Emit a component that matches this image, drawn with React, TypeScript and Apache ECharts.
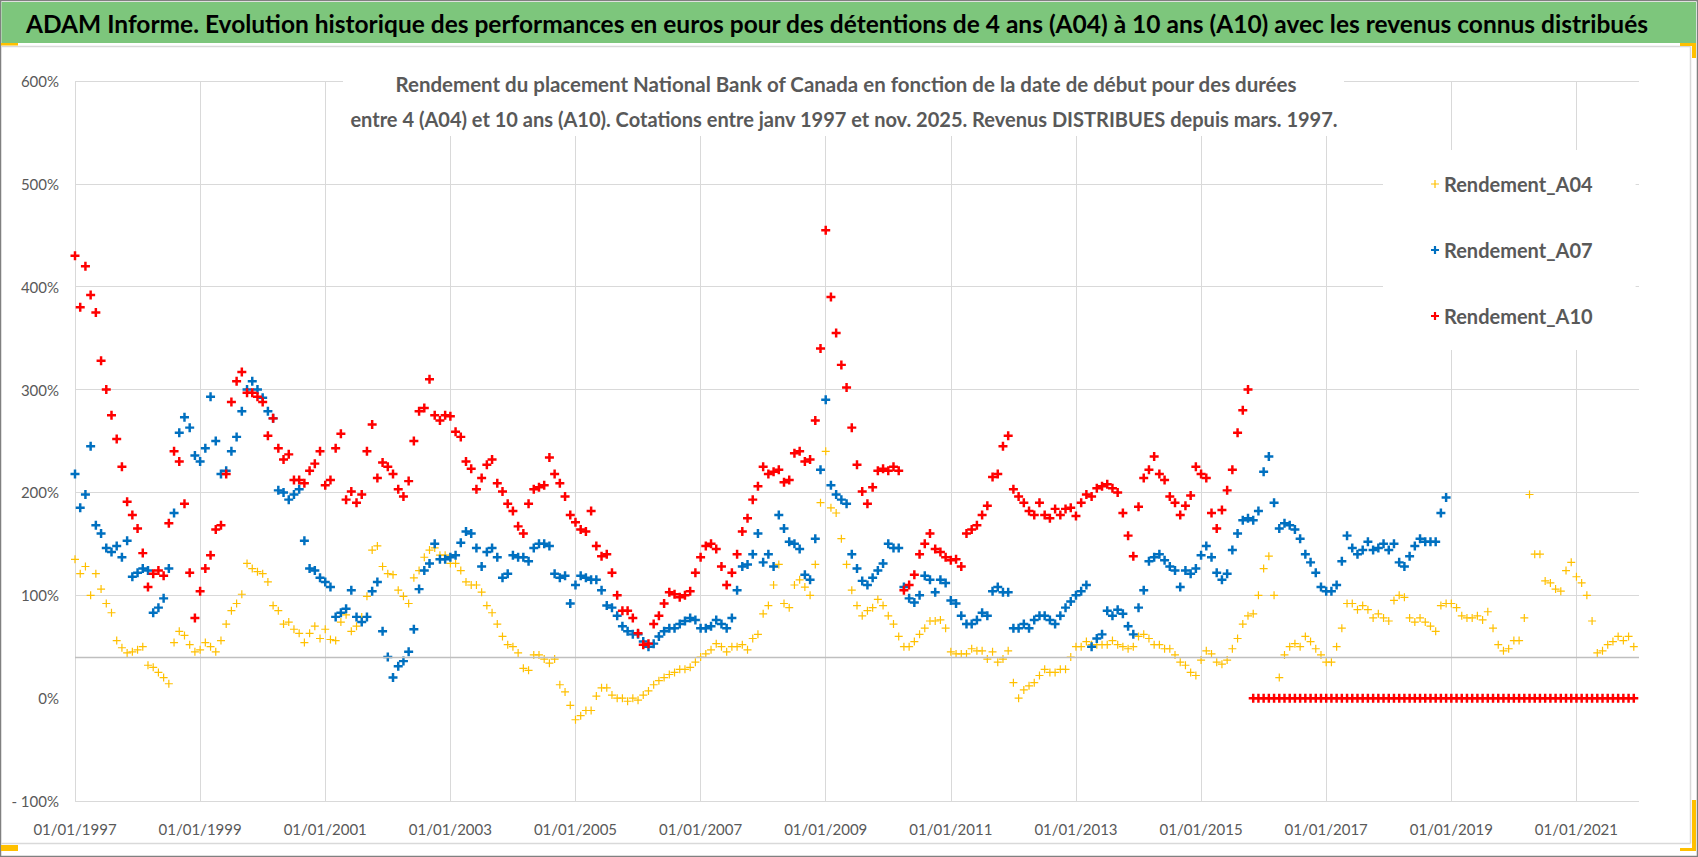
import React, { useEffect, useRef } from "react";
import * as echarts from "echarts";

// ---------- data (monthly readings, first value = January 1997) ----------
const START_YEAR = 1997;
const SERIES_NAMES = ["Rendement_A04", "Rendement_A07", "Rendement_A10"];
const SERIES_COLORS = ["#FFC000", "#0070C0", "#FF0000"];

const TITLE_TEXT =
  "ADAM Informe. Evolution historique des performances en euros pour des détentions de 4 ans (A04) à 10 ans (A10) avec les revenus connus distribués";
const SUBTITLE_LINE1 =
  "Rendement du placement National Bank of Canada en fonction de la date de début pour des durées";
const SUBTITLE_LINE2 =
  "entre 4 (A04) et 10 ans (A10). Cotations entre janv 1997 et nov. 2025. Revenus DISTRIBUES depuis mars. 1997.";

// Rendement_A04 : Jan 1997 .. Dec 2021
const A04: number[] = [
  135, 121, 128, 100, 121, 106, 92, 83, 56, 49, 44, 45, // 1997
  47, 50, 32, 30, 25, 20, 14, 54, 65, 61, 52, 45, // 1998
  47, 54, 50, 45, 56, 72, 85, 92, 101, 131, 126, 123, // 1999
  121, 113, 90, 85, 72, 74, 67, 63, 54, 63, 70, 58, // 2000
  67, 57, 56, 74, 81, 65, 70, 79, 99, 144, 148, 128, // 2001
  121, 120, 105, 99, 92, 117, 124, 137, 144, 146, 139, 139, // 2002
  131, 131, 124, 113, 110, 110, 103, 90, 83, 72, 60, 52, // 2003
  50, 44, 29, 27, 42, 42, 38, 34, 38, 13, 6, -7, // 2004
  -21, -17, -12, -12, 2, 10, 10, 3, 0, 0, -3, 0, // 2005
  -2, 3, 7, 13, 17, 20, 23, 25, 28, 28, 30, 35, // 2006
  40, 43, 47, 53, 50, 45, 50, 50, 52, 47, 58, 62, // 2007
  82, 90, 110, 130, 92, 88, 110, 115, 108, 100, 130, 190, // 2008
  240, 185, 180, 155, 130, 105, 90, 80, 85, 88, 96, 90, // 2009
  80, 72, 60, 50, 50, 55, 62, 68, 75, 75, 76, 68, // 2010
  45, 43, 43, 43, 48, 46, 46, 38, 45, 35, 38, 46, // 2011
  15, 0, 8, 12, 15, 22, 28, 25, 25, 28, 28, 40, // 2012
  50, 50, 55, 52, 52, 52, 52, 56, 52, 50, 48, 50, // 2013
  60, 62, 58, 52, 52, 48, 48, 42, 35, 32, 25, 22, // 2014
  37, 46, 43, 35, 33, 37, 48, 58, 72, 80, 82, 100, // 2015
  126, 138, 100, 20, 42, 50, 53, 50, 60, 55, 48, 42, // 2016
  35, 35, 50, 68, 92, 92, 86, 90, 86, 78, 82, 78, // 2017
  75, 95, 100, 98, 78, 74, 78, 74, 70, 65, 90, 92, // 2018
  92, 88, 80, 78, 78, 80, 76, 84, 68, 52, 46, 48, // 2019
  56, 56, 78, 198, 140, 140, 114, 112, 106, 104, 124, 132, // 2020
  118, 112, 100, 75, 44, 46, 52, 55, 60, 56, 60, 50, // 2021
];

// Rendement_A07 : Jan 1997 .. Dec 2018
const A07: number[] = [
  218, 185, 198, 245, 168, 160, 146, 142, 148, 137, 153, 118, // 1997
  122, 126, 124, 83, 88, 97, 126, 180, 258, 273, 263, 236, // 1998
  230, 243, 293, 250, 218, 221, 240, 254, 279, 300, 308, 300, // 1999
  292, 279, 272, 202, 200, 193, 198, 203, 153, 126, 124, 117, // 2000
  113, 108, 79, 83, 87, 105, 79, 74, 79, 104, 113, 65, // 2001
  40, 20, 31, 36, 45, 67, 106, 124, 131, 150, 135, 135, // 2002
  137, 139, 151, 162, 160, 146, 128, 142, 146, 137, 117, 121, // 2003
  139, 137, 137, 133, 146, 150, 150, 148, 121, 117, 119, 92, // 2004
  110, 119, 117, 115, 115, 105, 90, 88, 80, 70, 65, 62, // 2005
  62, 55, 50, 53, 60, 65, 68, 68, 72, 75, 78, 76, // 2006
  68, 68, 70, 76, 72, 68, 78, 105, 128, 130, 140, 160, // 2007
  132, 140, 128, 178, 165, 152, 150, 145, 120, 115, 155, 222, // 2008
  290, 207, 198, 193, 189, 140, 126, 114, 110, 117, 124, 131, // 2009
  150, 146, 146, 108, 97, 93, 100, 119, 115, 103, 115, 112, // 2010
  95, 92, 80, 72, 72, 76, 83, 80, 104, 108, 103, 103, // 2011
  68, 68, 72, 68, 76, 80, 80, 76, 72, 80, 88, 94, // 2012
  100, 104, 110, 50, 58, 62, 85, 80, 86, 82, 70, 62, // 2013
  88, 105, 133, 137, 140, 134, 128, 124, 108, 124, 121, 126, // 2014
  139, 148, 137, 122, 115, 121, 144, 160, 173, 175, 173, 182, // 2015
  220, 235, 190, 165, 170, 168, 164, 155, 140, 132, 122, 108, // 2016
  104, 104, 110, 133, 158, 146, 140, 144, 152, 144, 146, 150, // 2017
  144, 150, 132, 128, 138, 148, 155, 152, 152, 152, 180, 195, // 2018
];

// Rendement_A10 : Jan 1997 .. Dec 2021 (0 from Nov 2015 on)
const A10: number[] = [
  430, 380, 420, 392, 375, 328, 300, 275, 252, 225, 191, 178, // 1997
  165, 141, 108, 121, 124, 119, 170, 240, 230, 189, 122, 78, // 1998
  104, 126, 139, 164, 168, 218, 288, 308, 317, 297, 297, 293, // 1999
  288, 255, 272, 243, 232, 237, 212, 212, 209, 221, 228, 240, // 2000
  207, 212, 243, 257, 193, 201, 190, 198, 240, 266, 214, 229, // 2001
  225, 218, 203, 196, 211, 250, 279, 282, 310, 275, 270, 275, // 2002
  274, 259, 254, 230, 223, 203, 214, 227, 232, 209, 201, 189, // 2003
  182, 167, 160, 189, 203, 205, 207, 234, 218, 209, 196, 178, // 2004
  171, 164, 162, 182, 148, 138, 140, 122, 100, 85, 85, 78, // 2005
  63, 52, 53, 72, 80, 92, 103, 101, 98, 100, 104, 122, // 2006
  137, 148, 150, 145, 128, 110, 122, 140, 162, 175, 193, 206, // 2007
  225, 218, 220, 222, 210, 212, 238, 240, 230, 232, 270, 340, // 2008
  455, 390, 355, 324, 302, 263, 227, 201, 189, 205, 221, 223, // 2009
  221, 225, 221, 105, 110, 120, 140, 150, 160, 145, 142, 137, // 2010
  134, 135, 128, 160, 164, 168, 178, 187, 215, 218, 245, 255, // 2011
  203, 196, 190, 182, 178, 190, 178, 175, 184, 178, 184, 185, // 2012
  177, 190, 198, 196, 204, 206, 208, 204, 200, 180, 158, 138, // 2013
  186, 214, 222, 235, 218, 212, 196, 190, 178, 187, 197, 225, // 2014
  218, 214, 180, 165, 183, 202, 222, 258, 280, 300, 0, 0, // 2015
  0, 0, 0, 0, 0, 0, 0, 0, 0, 0, 0, 0, // 2016
  0, 0, 0, 0, 0, 0, 0, 0, 0, 0, 0, 0, // 2017
  0, 0, 0, 0, 0, 0, 0, 0, 0, 0, 0, 0, // 2018
  0, 0, 0, 0, 0, 0, 0, 0, 0, 0, 0, 0, // 2019
  0, 0, 0, 0, 0, 0, 0, 0, 0, 0, 0, 0, // 2020
  0, 0, 0, 0, 0, 0, 0, 0, 0, 0, 0, 0, // 2021
];

const Y_MIN = -100;
const Y_MAX = 600;
const Y_STEP = 100;
const X_SPAN_YEARS = 25; // 01/01/1997 .. 01/01/2022
const X_STEP_YEARS = 2;
const AXIS_LINE_VALUE = 40; // horizontal axis crossing

// ---------- styling ----------
const FONT = "Lato, 'Liberation Sans', sans-serif";
const GRID_COLOR = "#D9D9D9";
const TEXT_GRAY = "#595959";
const PLUS_THIN = "path://M0,3.4H8V4.6H0Z M3.4,0H4.6V8H3.4Z";
const PLUS_BOLD = "path://M0,2.9H8V5.1H0Z M2.9,0H5.1V8H2.9Z";

const toPoints = (vals: number[]) => vals.map((v, i) => [i / 12, v]);

function measureText(text: string, font: string): number {
  const ctx = document.createElement("canvas").getContext("2d");
  if (!ctx) return 0;
  ctx.font = font;
  return ctx.measureText(text).width;
}

function fittedText(text: string, font: string, x: number, y: number, targetWidth: number, align: string, fill: string) {
  const w = measureText(text, font);
  const sx = w > 0 ? targetWidth / w : 1;
  return {
    type: "text",
    silent: true,
    z: 5,
    x,
    y,
    scaleX: sx,
    style: { text, fill, font, align, verticalAlign: "middle" },
  };
}

export default function App() {
  const ref = useRef<HTMLDivElement>(null);

  useEffect(() => {
    if (!ref.current) return;
    const chart = echarts.init(ref.current, undefined, { renderer: "svg" });

    const ySplitColors: string[] = [];
    for (let v = Y_MIN; v <= Y_MAX; v += Y_STEP) {
      ySplitColors.push(v === 0 ? "rgba(0,0,0,0)" : GRID_COLOR);
    }
    const xSplitColors: string[] = [];
    for (let v = 0; v <= X_SPAN_YEARS; v += X_STEP_YEARS) xSplitColors.push(GRID_COLOR);
    xSplitColors.push("rgba(0,0,0,0)");

    const seriesData = [A04, A07, A10];
    const titleFont = `bold 25px ${FONT}`;
    const subFont = `bold 20px ${FONT}`;

    const option: any = {
      animation: false,
      backgroundColor: "#ffffff",
      grid: { left: 75, right: 59, top: 81, bottom: 56, containLabel: false },
      xAxis: {
        type: "value",
        min: 0,
        max: X_SPAN_YEARS,
        interval: X_STEP_YEARS,
        axisLine: { show: false },
        axisTick: { show: false },
        axisLabel: {
          color: TEXT_GRAY,
          fontFamily: FONT,
          fontSize: 15,
          margin: 20,
          showMaxLabel: false,
          formatter: (v: number) =>
            Math.round(v) % X_STEP_YEARS === 0 && v < X_SPAN_YEARS ? `01/01/${START_YEAR + Math.round(v)}` : "",
        },
        splitLine: { show: true, lineStyle: { color: xSplitColors, width: 1 } },
      },
      yAxis: {
        type: "value",
        min: Y_MIN,
        max: Y_MAX,
        interval: Y_STEP,
        axisLine: { show: false },
        axisTick: { show: false },
        axisLabel: {
          color: TEXT_GRAY,
          fontFamily: FONT,
          fontSize: 15,
          margin: 16,
          formatter: (v: number) => (v < 0 ? `- ${Math.abs(v)}%` : `${v}%`),
        },
        splitLine: { show: true, lineStyle: { color: ySplitColors, width: 1 } },
      },
      legend: {
        orient: "vertical",
        left: 1383,
        top: 150,
        padding: [24, 43, 24, 48],
        backgroundColor: "#ffffff",
        itemGap: 46,
        itemWidth: 8,
        itemHeight: 8,
        selectedMode: false,
        textStyle: { color: TEXT_GRAY, fontSize: 20, fontWeight: "bold", fontFamily: FONT },
        data: SERIES_NAMES.map((n, i) => ({ name: n, icon: i === 0 ? PLUS_THIN : PLUS_BOLD })),
      },
      series: SERIES_NAMES.map((name, i) => ({
        name,
        type: "scatter",
        silent: true,
        symbol: i === 0 ? PLUS_THIN : PLUS_BOLD,
        symbolSize: i === 0 ? 8 : 9,
        itemStyle: { color: SERIES_COLORS[i], opacity: 1 },
        data: toPoints(seriesData[i]),
        ...(i === 0
          ? {
              markLine: {
                silent: true,
                symbol: "none",
                label: { show: false },
                lineStyle: { color: "#BFBFBF", type: "solid", width: 1.3 },
                data: [{ yAxis: AXIS_LINE_VALUE }],
              },
            }
          : {}),
      })),
      graphic: [
        // frame
        { type: "rect", silent: true, z: 0, shape: { x: 0.5, y: 0.5, width: 1697, height: 856 }, style: { fill: "none", stroke: "#808080", lineWidth: 1.5 } },
        { type: "rect", silent: true, z: 0, shape: { x: 1.5, y: 2, width: 1694.5, height: 41 }, style: { fill: "#7DC67C" } },
        { type: "line", silent: true, z: 0, shape: { x1: 1, y1: 46.5, x2: 1690.5, y2: 46.5 }, style: { stroke: "#D9D9D9", lineWidth: 1.5 } },
        { type: "line", silent: true, z: 0, shape: { x1: 1690.5, y1: 46.5, x2: 1690.5, y2: 843.5 }, style: { stroke: "#D9D9D9", lineWidth: 1.5 } },
        { type: "line", silent: true, z: 0, shape: { x1: 1, y1: 843.5, x2: 1690.5, y2: 843.5 }, style: { stroke: "#D9D9D9", lineWidth: 1.5 } },
        // selection handles
        { type: "rect", silent: true, z: 0, shape: { x: 1, y: 43, width: 17, height: 2.5 }, style: { fill: "#FFC000" } },
        { type: "rect", silent: true, z: 0, shape: { x: 1, y: 845, width: 17, height: 6 }, style: { fill: "#FFC000" } },
        { type: "rect", silent: true, z: 0, shape: { x: 1680, y: 43, width: 16, height: 3 }, style: { fill: "#FFC000" } },
        { type: "rect", silent: true, z: 0, shape: { x: 1692, y: 43, width: 4, height: 15 }, style: { fill: "#FFC000" } },
        { type: "rect", silent: true, z: 0, shape: { x: 1692, y: 800, width: 4, height: 51 }, style: { fill: "#FFC000" } },
        { type: "rect", silent: true, z: 0, shape: { x: 1680, y: 848, width: 16, height: 3 }, style: { fill: "#FFC000" } },
        // title
        fittedText(TITLE_TEXT, titleFont, 26, 23.5, 1622, "left", "#000000"),
        // subtitle box
        { type: "rect", silent: true, z: 1, shape: { x: 343, y: 76, width: 1001, height: 60 }, style: { fill: "#ffffff" } },
        fittedText(SUBTITLE_LINE1, subFont, 846, 84, 902, "center", TEXT_GRAY),
        fittedText(SUBTITLE_LINE2, subFont, 844, 119, 988, "center", TEXT_GRAY),
      ],
    };

    chart.setOption(option);
    return () => chart.dispose();
  }, []);

  return (
    <div
      ref={ref}
      style={{ position: "fixed", left: 0, top: 0, width: 1698, height: 857, background: "#ffffff" }}
    />
  );
}
